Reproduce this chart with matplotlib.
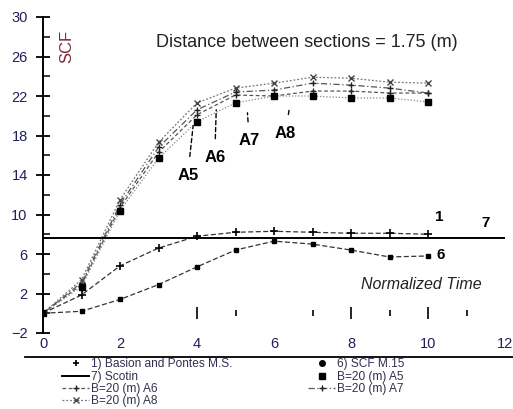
import matplotlib
matplotlib.use("Agg")
import matplotlib.pyplot as plt
from matplotlib.lines import Line2D
from matplotlib.ticker import FixedLocator

plt.rcParams['font.family'] = ['Liberation Sans', 'DejaVu Sans']

# ---- data ----
t = [0, 1, 2, 3, 4, 5, 6, 7, 8, 9, 10]
scf_basion = [0, 1.85, 4.8, 6.6, 7.8, 8.2, 8.3, 8.2, 8.1, 8.1, 8.0]
scf_m15 = [0, 0.2, 1.4, 2.9, 4.7, 6.4, 7.3, 7.0, 6.4, 5.7, 5.8]
scotin_level = 7.6
a5 = [0, 2.7, 10.4, 15.7, 19.4, 21.3, 22.0, 22.0, 21.8, 21.8, 21.4]
a6 = [0, 2.9, 10.7, 16.3, 20.1, 22.1, 22.0, 22.5, 22.5, 22.3, 22.3]
a7 = [0, 3.1, 11.0, 16.8, 20.6, 22.4, 22.6, 23.3, 23.1, 22.8, 22.3]
a8 = [0, 3.4, 11.5, 17.3, 21.3, 22.8, 23.3, 23.9, 23.8, 23.4, 23.3]

legend_labels = ["1) Basion and Pontes M.S.", "6) SCF M.15", "7) Scotin",
                 "B=20 (m) A5", "B=20 (m) A6", "B=20 (m) A7", "B=20 (m) A8"]
yticks = [-2, 2, 6, 10, 14, 18, 22, 26, 30]
xticks = [0, 2, 4, 6, 8, 10, 12]

W, H = 513, 409
fig = plt.figure(figsize=(W / 100, H / 100), dpi=100)
ax = fig.add_axes([43 / W, 1 - 333 / H, (505 - 43) / W, (333 - 17) / H])
ax.set_xlim(0, 12)
ax.set_ylim(-2, 30)

lab_col = '#20205a'

# curves
st_a8 = dict(color='#777777', lw=0.9, ls=(0, (1.5, 1.5)), marker='x', ms=4, mec='#444444')
st_a7 = dict(color='#555555', lw=0.9, ls=(0, (5, 2, 1, 2)), marker='+', ms=5, mec='#222222')
st_a6 = dict(color='#555555', lw=0.9, ls=(0, (3, 2)), marker='+', ms=5, mec='#222222')
st_a5 = dict(color='#888888', lw=0.9, ls=(0, (1, 1.5)), marker='s', ms=4, mfc='black', mec='black')
st_b1 = dict(color='#333333', lw=0.9, ls=(0, (4, 2)), marker='+', ms=6, mec='black', mew=1.2)
st_m15 = dict(color='#333333', lw=0.9, ls=(0, (4, 2)), marker='s', ms=3.5, mfc='black', mec='black')

ax.plot(t, a8, label=legend_labels[6], **st_a8)
ax.plot(t, a7, label=legend_labels[5], **st_a7)
ax.plot(t, a6, label=legend_labels[4], **st_a6)
ax.plot(t, a5, label=legend_labels[3], **st_a5)
ax.plot(t, scf_basion, label=legend_labels[0], **st_b1)
ax.plot(t, scf_m15, label=legend_labels[1], **st_m15)
ax.axhline(scotin_level, color='black', lw=1.4, label=legend_labels[2])

# spines / ticks
for s in ['top', 'right', 'bottom']:
    ax.spines[s].set_visible(False)
ax.spines['left'].set_linewidth(1.4)
ax.set_yticks(yticks)
ax.yaxis.set_minor_locator(FixedLocator([y + 2 for y in yticks[:-1]]))
ax.tick_params(axis='y', which='major', direction='inout', length=10, width=1.3,
               labelsize=10.5, labelcolor=lab_col, pad=6)
ax.tick_params(axis='y', which='minor', direction='in', length=5, width=1.1)
ax.set_xticks(xticks)
ax.tick_params(axis='x', which='both', length=0, labelsize=10.5, labelcolor=lab_col, pad=3)

# tick marks along the time axis near zero
sec = ax.secondary_xaxis(2.0 / 32)
sec.spines['bottom'].set_visible(False)
sec.set_xticks([4, 8, 10])
sec.xaxis.set_minor_locator(FixedLocator([5, 7, 9, 11]))
sec.tick_params(axis='x', which='major', direction='inout', length=9, width=1.2, labelbottom=False)
sec.tick_params(axis='x', which='minor', direction='inout', length=4, width=1.2)

# texts
ax.text(6.84, 27.4, "Distance between sections = 1.75 (m)", fontsize=13,
        ha='center', va='center', color='#222222')
ax.text(0.62, 27.0, "SCF", rotation=90, fontsize=12, ha='center', va='center', color='#7a2a3a')
ax.text(9.82, 2.9, "Normalized Time", fontsize=11.5, style='italic', ha='center', va='center',
        color='#222222')
for s, x, y in [("1", 10.28, 9.75), ("7", 11.5, 9.1), ("6", 10.34, 5.9)]:
    ax.text(x, y, s, fontsize=11, fontweight='bold', ha='center', va='center')

ann = [("A5", (3.9, 19.0), (3.76, 14.0)), ("A6", (4.5, 20.6), (4.46, 15.8)),
       ("A7", (5.31, 20.3), (5.36, 17.5)), ("A8", (6.4, 20.8), (6.3, 18.25))]
for s, xy, xyt in ann:
    ax.annotate(s, xy=xy, xytext=xyt, fontsize=12, fontweight='bold', ha='center', va='center',
                arrowprops=dict(arrowstyle='-', ls=(0, (3, 2)), lw=1.0, color='black',
                                shrinkA=6, shrinkB=0))

# legend area
fig.add_artist(Line2D([25 / W, 1.0], [1 - 357 / H, 1 - 357 / H], transform=fig.transFigure,
                      color='black', lw=1.3))

def proxy(style, line=True):
    st = dict(style)
    if not line:
        st['ls'] = 'none'
    return Line2D([], [], **st)

handles = [proxy(dict(marker='+', ms=5, mec='black', mew=1.2, color='black'), False),
           Line2D([], [], color='black', lw=1.4),
           proxy(st_a6), proxy(st_a8),
           proxy(dict(marker='o', ms=4, mfc='black', mec='black', color='black'), False),
           proxy(dict(marker='s', ms=5, mfc='black', mec='black', color='black'), False),
           proxy(st_a7)]
labels = [legend_labels[i] for i in (0, 2, 4, 6, 1, 3, 5)]
leg = fig.legend(handles, labels, ncol=2, loc='upper left',
                 bbox_to_anchor=(62 / W, 1 - 358.5 / H), frameon=False, fontsize=8.6,
                 borderpad=0, labelspacing=0.02, handlelength=2.3, handletextpad=0.15,
                 columnspacing=6.3, borderaxespad=0)
for txt in leg.get_texts():
    txt.set_color('#303050')

fig.savefig("out.png", dpi=100)
